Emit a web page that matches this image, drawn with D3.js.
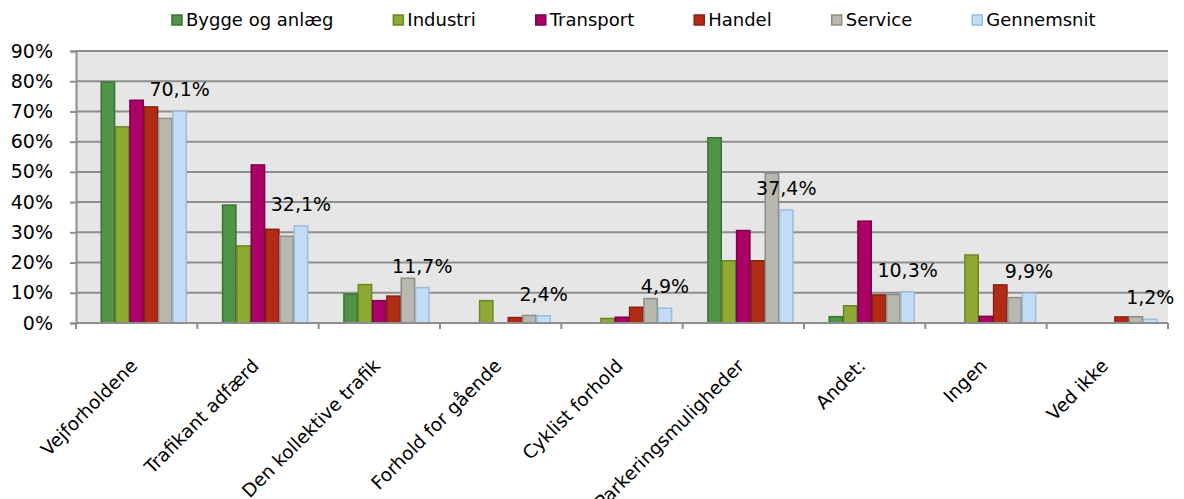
<!DOCTYPE html>
<html>
<head>
<meta charset="utf-8">
<script src="https://cdn.jsdelivr.net/npm/d3@7"></script>
<style>
	body { margin: 0; background: #fff; }
	text { font-family: "DejaVu Sans", Verdana, sans-serif; fill: #000; }
</style>
</head>
<body>
<div id="chart"></div>
<script>
(function(){

// data (percent)
var categories = ['Vejforholdene', 'Trafikant adfærd', 'Den kollektive trafik', 'Forhold for gående',
	'Cyklist forhold', 'Parkeringsmuligheder', 'Andet:', 'Ingen', 'Ved ikke'];
var seriesNames = ['Bygge og anlæg', 'Industri', 'Transport', 'Handel', 'Service', 'Gennemsnit'];

var bygge      = [79.7, 39.0,  9.6, 0,   0,   61.3,  2.1,  0,    0];
var industri   = [64.9, 25.5, 12.7, 7.4, 1.5, 20.6,  5.7, 22.5,  0];
var transport  = [73.7, 52.3,  7.4, 0,   1.9, 30.6, 33.7,  2.2,  0];
var handel     = [71.5, 31.0,  8.9, 1.8, 5.2, 20.6,  9.3, 12.6,  2.0];
var service    = [67.7, 28.7, 14.8, 2.5, 8.1, 49.5,  9.4,  8.4,  2.1];
var gennemsnit = [70.1, 32.1, 11.7, 2.4, 4.9, 37.4, 10.3,  9.9,  1.2];

var yTicks = [0, 10, 20, 30, 40, 50, 60, 70, 80, 90];

var fills   = ['#4f9447', '#8eaa32', '#ab0066', '#b22b17', '#b9b8af', '#c3ddf6'];
var strokes = ['#3a7233', '#6c8624', '#7f004b', '#87200f', '#8e8d86', '#9bbbd9'];

var allSeries = [bygge, industri, transport, handel, service, gennemsnit];

var width = 1184;
var height = 499;
var margin = {left: 76, right: 16, top: 51, bottom: 176};

var svg = d3.select('#chart').append('svg')
	.attr('width', width)
	.attr('height', height);

var x0 = d3.scaleBand()
	.domain(categories)
	.range([margin.left, width - margin.right])
	.padding(0);

var bw = x0.bandwidth();

// excel puts the bar group a bit right of the band centre
var x1 = d3.scaleBand()
	.domain(seriesNames)
	.range([bw * 0.204, bw * 0.913])
	.padding(0);

var y = d3.scaleLinear()
	.domain([0, 90])
	.range([height - margin.bottom, margin.top]);

// plot background
svg.append('rect')
	.attr('x', margin.left)
	.attr('y', margin.top)
	.attr('width', width - margin.right - margin.left)
	.attr('height', y(0) - margin.top)
	.style('fill', '#e6e6e6');

// gridlines
svg.selectAll('line.grid').data(yTicks.slice(1))
	.enter()
	.append('line')
	.attr('class', 'grid')
	.attr('x1', margin.left)
	.attr('x2', width - margin.right)
	.attr('y1', function(d) { return y(d); })
	.attr('y2', function(d) { return y(d); })
	.style('stroke', '#8e8e8e')
	.style('stroke-width', 2);

// bars
var groups = svg.selectAll('g.cat').data(categories)
	.enter()
	.append('g')
	.attr('class', 'cat')
	.attr('transform', function(d) { return 'translate(' + x0(d) + ',0)'; });

groups.selectAll('rect')
	.data(function(d, i) {
		return allSeries.map(function(s, j) {
			return {name: seriesNames[j], value: s[i], idx: j};
		}).filter(function(b) { return b.value > 0; });
	})
	.enter()
	.append('rect')
	.attr('x', function(d) { return x1(d.name) + 0.5; })
	.attr('y', function(d) { return y(d.value); })
	.attr('width', x1.bandwidth() - 1)
	.attr('height', function(d) { return y(0) - y(d.value); })
	.style('fill', function(d) { return fills[d.idx]; })
	.style('stroke', function(d) { return strokes[d.idx]; })
	.style('stroke-width', 1.5);

// value labels on the average series
svg.selectAll('text.vlabel').data(gennemsnit)
	.enter()
	.append('text')
	.attr('class', 'vlabel')
	.attr('x', function(d, i) { return x0(categories[i]) + x1('Gennemsnit') + x1.bandwidth() / 2; })
	.attr('y', function(d) { return y(d) - 15; })
	.attr('text-anchor', 'middle')
	.style('font-size', '19px')
	.text(function(d) { return d.toFixed(1).replace('.', ',') + '%'; });

// y axis
var yAxis = d3.axisLeft(y)
	.tickValues(yTicks)
	.tickSize(6)
	.tickPadding(17)
	.tickFormat(function(d) { return d + '%'; });

var gy = svg.append('g')
	.attr('transform', 'translate(' + margin.left + ',0)')
	.call(yAxis);

gy.select('.domain').style('stroke', '#8e8e8e').style('stroke-width', 2);
gy.selectAll('.tick line').style('stroke', '#8e8e8e').style('stroke-width', 2);
gy.selectAll('.tick text')
	.style('font-size', '19px')
	.style('font-family', '"DejaVu Sans", Verdana, sans-serif');

// x axis: ticks sit on the band edges
var edges = categories.map(function(c) { return x0(c); }).concat([width - margin.right]);

svg.append('line')
	.attr('x1', margin.left)
	.attr('x2', width - margin.right)
	.attr('y1', y(0))
	.attr('y2', y(0))
	.style('stroke', '#8e8e8e')
	.style('stroke-width', 2);

svg.selectAll('line.xtick').data(edges)
	.enter()
	.append('line')
	.attr('class', 'xtick')
	.attr('x1', function(d) { return d; })
	.attr('x2', function(d) { return d; })
	.attr('y1', y(0))
	.attr('y2', y(0) + 6)
	.style('stroke', '#8e8e8e')
	.style('stroke-width', 2);

// rotated category labels (the long ones run off the bottom, as in the original)
svg.selectAll('text.xlabel').data(categories)
	.enter()
	.append('text')
	.attr('class', 'xlabel')
	.attr('text-anchor', 'end')
	.attr('transform', function(d) {
		return 'translate(' + (x0(d) + bw / 2 + 2) + ',' + (y(0) + 44) + ') rotate(-45)';
	})
	.style('font-size', '18.5px')
	.text(function(d) { return d; });

// legend
var legend = svg.append('g').attr('class', 'legend');
var lx = 172;

seriesNames.forEach(function(name, i) {
	var item = legend.append('g').attr('transform', 'translate(' + lx + ',0)');
	item.append('rect')
		.attr('x', 0)
		.attr('y', 15)
		.attr('width', 10)
		.attr('height', 10)
		.style('fill', fills[i])
		.style('stroke', strokes[i])
		.style('stroke-width', 1.5);
	var t = item.append('text')
		.attr('x', 14)
		.attr('y', 26)
		.style('font-size', '18px')
		.text(name);
	lx += 14 + t.node().getComputedTextLength() + 60;
});

})();
</script>
</body>
</html>
